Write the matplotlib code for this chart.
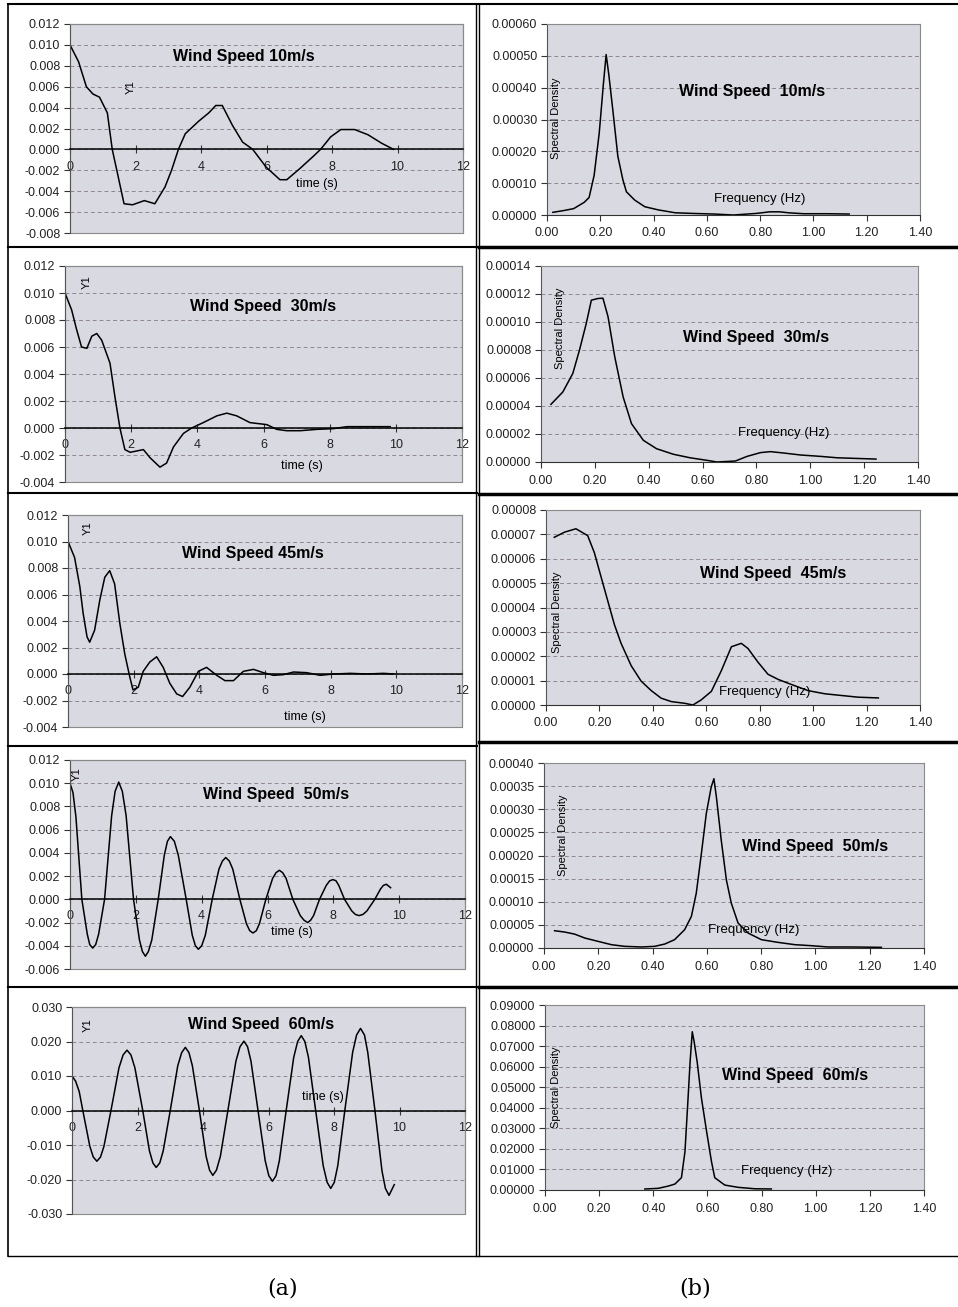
import matplotlib
matplotlib.use('Agg')
import matplotlib.pyplot as plt
from matplotlib.lines import Line2D
from matplotlib.patches import Rectangle

plt.rcParams['font.family'] = ['Liberation Sans', 'DejaVu Sans']
plt.rcParams['hatch.color'] = '#e8e8ee'
plt.rcParams['hatch.linewidth'] = 0.6

# ---- time histories (Y1 vs time) ----
t10 = [0, 0.26, 0.5, 0.7, 0.9, 1.14, 1.29, 1.45, 1.65, 1.91, 2.27, 2.59, 2.9, 3.1, 3.31, 3.52, 3.93,
       4.24, 4.45, 4.65, 4.96, 5.27, 5.58, 5.99, 6.41, 6.62, 7.03, 7.45, 7.65, 7.96, 8.27, 8.69, 9.1,
       9.51, 9.88]
y10 = [0.0100, 0.0084, 0.0060, 0.0053, 0.0050, 0.0035, 0.0, -0.0023, -0.0052, -0.0053, -0.0049,
       -0.0052, -0.0036, -0.0020, 0.0, 0.0015, 0.0027, 0.0035, 0.0042, 0.0042, 0.0023, 0.0007, 0.0,
       -0.0017, -0.0029, -0.0029, -0.0018, -0.0006, 0.0, 0.0012, 0.0019, 0.0019, 0.0014, 0.0006, 0.0]

t30 = [0, 0.2, 0.35, 0.5, 0.66, 0.81, 0.96, 1.11, 1.36, 1.51, 1.66, 1.81, 1.97, 2.17, 2.37, 2.57,
       2.87, 3.07, 3.28, 3.58, 3.83, 4.18, 4.59, 4.89, 5.19, 5.59, 6.1, 6.4, 6.7, 7.11, 7.61, 8.11,
       8.52, 9.12, 9.83]
y30 = [0.0100, 0.00875, 0.0073, 0.0060, 0.0059, 0.0068, 0.0070, 0.0065, 0.0048, 0.0023, 0.0,
       -0.0016, -0.0018, -0.0017, -0.0016, -0.0022, -0.0029, -0.0026, -0.0014, -0.0004, 0.0, 0.0004,
       0.0009, 0.0011, 0.0009, 0.0004, 0.00025, -0.0001, -0.0002, -0.0002, -0.0001, -0.00005, 0.0001,
       0.0001, 0.0001]

t45 = [0, 0.2, 0.36, 0.46, 0.58, 0.66, 0.81, 0.97, 1.12, 1.27, 1.42, 1.58, 1.73, 1.88, 1.98, 2.14,
       2.29, 2.49, 2.7, 2.9, 3.1, 3.31, 3.49, 3.71, 3.97, 4.22, 4.53, 4.78, 5.04, 5.34, 5.65, 5.95,
       6.26, 6.56, 6.87, 7.27, 7.68, 8.09, 8.6, 9.1, 9.61, 9.92]
y45 = [0.0100, 0.0088, 0.0066, 0.0046, 0.0028, 0.0024, 0.0033, 0.0056, 0.0073, 0.0078, 0.0068,
       0.0038, 0.0015, -0.0002, -0.0012, -0.0010, 0.0002, 0.0009, 0.0013, 0.0005, -0.0007, -0.0015,
       -0.0017, -0.0010, 0.0002, 0.0005, -0.0001, -0.0005, -0.0005, 0.0002, 0.00035, 0.0001, -0.0001,
       -0.00005, 0.00015, 0.0001, -0.0001, 0.0, 0.00005, 0.0, 0.00005, 0.0]

t50 = [0, 0.09, 0.18, 0.36, 0.525, 0.60, 0.69, 0.78, 0.87, 1.05, 1.265, 1.37, 1.48, 1.59, 1.705,
       1.93, 2.11, 2.20, 2.29, 2.38, 2.485, 2.68, 2.865, 2.96, 3.05, 3.17, 3.29, 3.53, 3.715, 3.81,
       3.90, 4.00, 4.11, 4.32, 4.525, 4.63, 4.73, 4.84, 4.945, 5.16, 5.36, 5.46, 5.56, 5.66, 5.755,
       5.95, 6.155, 6.26, 6.36, 6.46, 6.565, 6.77, 6.995, 7.11, 7.22, 7.31, 7.40, 7.58, 7.785, 7.89,
       7.99, 8.08, 8.165, 8.34, 8.56, 8.67, 8.78, 8.90, 9.02, 9.26, 9.435, 9.52, 9.61, 9.74]
y50 = [0.0100, 0.0092, 0.0071, 0.0, -0.0030, -0.0039, -0.0042, -0.0039, -0.0030, 0.0, 0.0072,
       0.0093, 0.0101, 0.0093, 0.0072, 0.0, -0.0035, -0.0045, -0.0049, -0.0045, -0.0035, 0.0, 0.0038,
       0.0050, 0.0054, 0.0050, 0.0038, 0.0, -0.0031, -0.0040, -0.0043, -0.0040, -0.0031, 0.0, 0.0026,
       0.0033, 0.0036, 0.0033, 0.0026, 0.0, -0.0021, -0.0027, -0.0029, -0.0027, -0.0021, 0.0, 0.0018,
       0.0023, 0.0025, 0.0023, 0.0018, 0.0, -0.0014, -0.0018, -0.0020, -0.0018, -0.0014, 0.0, 0.0012,
       0.0016, 0.0017, 0.0016, 0.0012, 0.0, -0.0010, -0.0013, -0.0014, -0.0013, -0.0010, 0.0, 0.0009,
       0.0012, 0.0013, 0.0010]

t60 = [0, 0.11, 0.22, 0.33, 0.545, 0.65, 0.76, 0.87, 0.975, 1.19, 1.435, 1.56, 1.68, 1.80, 1.92,
       2.16, 2.365, 2.47, 2.57, 2.68, 2.785, 3.0, 3.23, 3.35, 3.46, 3.57, 3.675, 3.89, 4.095, 4.20,
       4.30, 4.41, 4.53, 4.76, 5.005, 5.13, 5.25, 5.36, 5.465, 5.68, 5.90, 6.01, 6.12, 6.23, 6.33,
       6.54, 6.77, 6.89, 7.00, 7.11, 7.22, 7.44, 7.67, 7.79, 7.90, 8.01, 8.115, 8.33, 8.57, 8.69,
       8.81, 8.93, 9.03, 9.25, 9.465, 9.57, 9.68, 9.84]
y60 = [0.0100, 0.0085, 0.0055, 0.0, -0.0104, -0.0135, -0.0147, -0.0135, -0.0104, 0.0, 0.0124,
       0.0161, 0.0175, 0.0161, 0.0124, 0.0, -0.0117, -0.0152, -0.0165, -0.0152, -0.0117, 0.0, 0.0130,
       0.0168, 0.0183, 0.0168, 0.0130, 0.0, -0.0133, -0.0173, -0.0188, -0.0173, -0.0133, 0.0, 0.0143,
       0.0185, 0.0201, 0.0185, 0.0143, 0.0, -0.0146, -0.0189, -0.0205, -0.0189, -0.0146, 0.0, 0.0154,
       0.0200, 0.0217, 0.0200, 0.0154, 0.0, -0.0160, -0.0208, -0.0226, -0.0208, -0.0160, 0.0, 0.0169,
       0.0219, 0.0238, 0.0219, 0.0169, 0.0, -0.0175, -0.0226, -0.0246, -0.0215]

# ---- spectral densities ----
f10 = [0.022, 0.063, 0.10, 0.14, 0.158, 0.177, 0.196, 0.212, 0.222, 0.232, 0.247, 0.266, 0.285,
       0.298, 0.329, 0.367, 0.418, 0.481, 0.545, 0.627, 0.70, 0.786, 0.836, 0.874, 0.906, 0.963,
       1.05, 1.134]
s10 = [0.0000084, 0.000014, 0.00002, 0.00004, 0.000055, 0.000125, 0.000257, 0.000415, 0.000504,
       0.000441, 0.00033, 0.000184, 0.00011, 0.000073, 0.000047, 0.000026, 0.000016, 0.000007,
       0.000005, 0.000003, 0.0, 0.000005, 0.00001, 0.00001, 0.000007, 0.000004, 0.000004, 0.000003]

f30 = [0.037, 0.081, 0.118, 0.143, 0.168, 0.187, 0.212, 0.230, 0.249, 0.274, 0.305, 0.336, 0.380,
       0.429, 0.492, 0.554, 0.616, 0.653, 0.722, 0.765, 0.815, 0.852, 0.902, 0.964, 1.039, 1.101,
       1.164, 1.244]
s30 = [0.0000412, 0.00005, 0.0000632, 0.00008, 0.0000989, 0.0001156, 0.0001168, 0.000117, 0.0001037,
       0.000075, 0.0000465, 0.0000274, 0.0000155, 0.0000095, 0.0000055, 0.000003, 0.0000012, 0.0,
       0.0000007, 0.000004, 0.0000067, 0.0000074, 0.0000064, 0.000005, 0.000004, 0.000003,
       0.0000026, 0.0000021]

f45 = [0.031, 0.069, 0.112, 0.156, 0.181, 0.206, 0.231, 0.256, 0.281, 0.319, 0.356, 0.394, 0.431,
       0.469, 0.519, 0.55, 0.581, 0.619, 0.656, 0.694, 0.731, 0.756, 0.794, 0.831, 0.869, 0.919,
       0.981, 1.044, 1.106, 1.169, 1.244]
s45 = [0.0000688, 0.0000709, 0.0000723, 0.0000695, 0.0000625, 0.0000526, 0.0000428, 0.000033,
       0.0000253, 0.0000161, 0.0000098, 0.0000059, 0.0000028, 0.0000014, 0.0000007, 0.0, 0.0000021,
       0.0000056, 0.000014, 0.0000239, 0.0000253, 0.0000232, 0.0000175, 0.0000126, 0.0000105,
       0.0000084, 0.0000059, 0.0000046, 0.0000039, 0.0000032, 0.0000029]

f50 = [0.039, 0.076, 0.113, 0.150, 0.199, 0.248, 0.297, 0.359, 0.408, 0.445, 0.481, 0.518, 0.543,
       0.561, 0.580, 0.598, 0.616, 0.626, 0.635, 0.653, 0.672, 0.690, 0.715, 0.752, 0.801, 0.862,
       0.924, 0.985, 1.046, 1.132, 1.243]
s50 = [0.0000374, 0.0000345, 0.00003, 0.0000216, 0.0000144, 0.0000072, 0.0000036, 0.0000022,
       0.0000036, 0.0000086, 0.000018, 0.0000395, 0.0000683, 0.0001185, 0.000205, 0.000291, 0.000348,
       0.000366, 0.000327, 0.000233, 0.000147, 0.000097, 0.0000539, 0.0000323, 0.000018, 0.0000122,
       0.0000072, 0.000005, 0.0000022, 0.0000022, 0.0000014]

f60 = [0.369, 0.418, 0.455, 0.48, 0.504, 0.517, 0.527, 0.536, 0.544, 0.551, 0.562, 0.578, 0.597,
       0.615, 0.627, 0.664, 0.713, 0.775, 0.836]
s60 = [0.0005, 0.0008, 0.0019, 0.0029, 0.006, 0.0186, 0.0413, 0.0624, 0.077, 0.0721, 0.0624,
       0.0446, 0.0284, 0.0138, 0.006, 0.0024, 0.0013, 0.0006, 0.0005]

time_ticks = [0, 2, 4, 6, 8, 10, 12]
freq_ticks = [0.0, 0.2, 0.4, 0.6, 0.8, 1.0, 1.2, 1.4]

W, H = 958, 1307
fig = plt.figure(figsize=(W / 100, H / 100), dpi=100)


def rect(l, t, r, b):
    return [l / W, 1 - b / H, (r - l) / W, (b - t) / H]


def hline(y, x0, x1, lw=1.0):
    fig.add_artist(Line2D([x0 / W, x1 / W], [1 - y / H, 1 - y / H], color='black', lw=lw))


def vline(x, y0, y1, lw=1.0):
    fig.add_artist(Line2D([x / W, x / W], [1 - y0 / H, 1 - y1 / H], color='black', lw=lw))


def base_axes(box, ylim, ystep, yfmt):
    ax = fig.add_axes(rect(*box))
    ax.set_facecolor('#d9d9e1')
    ax.patch.set_hatch('.....')
    ax.set_ylim(*ylim)
    n = int(round((ylim[1] - ylim[0]) / ystep))
    yt = [ylim[0] + i * ystep for i in range(n + 1)]
    ax.set_yticks(yt)
    ax.set_yticklabels([yfmt.format(v + 0.0) for v in yt])
    ax.yaxis.grid(True, linestyle=(0, (4, 3)), color='#8f8792', lw=0.7)
    ax.set_axisbelow(True)
    for s in ['top', 'right']:
        ax.spines[s].set_color('#8a8a8a')
    ax.spines['left'].set_color('#555555')
    ax.tick_params(axis='both', labelsize=9, colors='#333333', length=4, width=0.8)
    ax.tick_params(axis='y', direction='out', pad=3, labelcolor='#222222')
    return ax


def time_panel(box, t, y, ylim, ystep, title, title_xy, y1_xy, xl_xy):
    ax = base_axes(box, ylim, ystep, '{:.3f}')
    ax.set_xlim(0, 12)
    ax.set_xticks(time_ticks)
    ax.set_xticklabels([str(v) for v in time_ticks])
    ax.spines['bottom'].set_position(('data', 0))
    ax.spines['bottom'].set_color('black')
    ax.spines['bottom'].set_linewidth(1.1)
    ax.tick_params(axis='x', direction='inout', length=6, pad=5, labelcolor='#222222')
    ax.add_patch(Rectangle((0, 0), 1, 1, transform=ax.transAxes, fill=False,
                           ec='#8a8a8a', lw=0.8, clip_on=False))
    ax.plot(t, y, color='black', lw=1.1)
    ax.text(*title_xy, title, fontsize=11.5, fontweight='bold', ha='center', va='center')
    ax.text(*y1_xy, 'Y1', fontsize=8, rotation=90, ha='center', va='center')
    ax.text(*xl_xy, 'time (s)', fontsize=9, ha='center', va='center')
    return ax


def spec_panel(box, f, s, ymax, ystep, title, title_xy, sd_xy, fr_xy):
    ax = base_axes(box, (0, ymax), ystep, '{:.5f}')
    ax.set_xlim(0, 1.4)
    ax.set_xticks(freq_ticks)
    ax.set_xticklabels(['{:.2f}'.format(v) for v in freq_ticks])
    ax.spines['bottom'].set_color('#333333')
    ax.tick_params(axis='x', direction='out', length=4, pad=5, labelcolor='#222222')
    ax.plot(f, s, color='black', lw=1.1)
    ax.text(*title_xy, title, fontsize=11.5, fontweight='bold', ha='center', va='center')
    ax.text(*sd_xy, 'Spectral Density', fontsize=8, rotation=90, ha='center', va='center')
    ax.text(*fr_xy, 'Frequency (Hz)', fontsize=9.5, ha='center', va='center')
    return ax


# left column: time histories
time_panel((70, 24, 463, 233), t10, y10, (-0.008, 0.012), 0.002, 'Wind Speed 10m/s',
           (5.3, 0.0089), (1.86, 0.0060), (7.55, -0.0033))
time_panel((65, 266, 462, 482), t30, y30, (-0.004, 0.012), 0.002, 'Wind Speed  30m/s',
           (6.0, 0.0090), (0.66, 0.0108), (7.16, -0.0028))
time_panel((68, 515, 462, 727), t45, y45, (-0.004, 0.012), 0.002, 'Wind Speed 45m/s',
           (5.63, 0.0091), (0.61, 0.0110), (7.22, -0.00325))
time_panel((70, 760, 465, 969), t50, y50, (-0.006, 0.012), 0.002, 'Wind Speed  50m/s',
           (6.26, 0.0090), (0.2, 0.0108), (6.75, -0.0028))
time_panel((72, 1007, 465, 1214), t60, y60, (-0.03, 0.03), 0.01, 'Wind Speed  60m/s',
           (5.76, 0.0250), (0.48, 0.0248), (7.67, 0.0038))

# right column: spectra
spec_panel((547, 24, 920, 215), f10, s10, 0.0006, 0.0001, 'Wind Speed  10m/s',
           (0.77, 0.000388), (0.032, 0.000304), (0.80, 0.0000493))
spec_panel((541, 266, 918, 462), f30, s30, 0.00014, 0.00002, 'Wind Speed  30m/s',
           (0.80, 0.0000889), (0.071, 0.0000953), (0.90, 0.0000207))
spec_panel((546, 510, 920, 705), f45, s45, 0.00008, 0.00001, 'Wind Speed  45m/s',
           (0.85, 0.0000538), (0.04, 0.0000379), (0.82, 0.0000053))
spec_panel((544, 763, 924, 948), f50, s50, 0.0004, 0.00005, 'Wind Speed  50m/s',
           (1.0, 0.00022), (0.07, 0.000244), (0.774, 0.0000395))
spec_panel((545, 1005, 924, 1190), f60, s60, 0.09, 0.01, 'Wind Speed  60m/s',
           (0.923, 0.0556), (0.039, 0.0502), (0.892, 0.0094))

# outer frame and separators
hline(4, 8, 958, lw=1.5)
vline(8, 4, 1256, lw=1.2)
hline(1256, 8, 958, lw=1.0)
vline(476, 4, 1256, lw=1.0)
vline(479, 4, 1256, lw=1.0)
for y in [247, 493, 746, 987]:
    hline(y, 8, 477, lw=1.5)
for y in [247, 494, 742, 987]:
    hline(y, 479, 958, lw=2.5)

fig.text(283 / W, 1 - 1288 / H, '(a)', family=['DejaVu Serif'], fontsize=16, ha='center', va='center')
fig.text(695 / W, 1 - 1288 / H, '(b)', family=['DejaVu Serif'], fontsize=16, ha='center', va='center')

fig.savefig('out.png', dpi=100, facecolor='white')
